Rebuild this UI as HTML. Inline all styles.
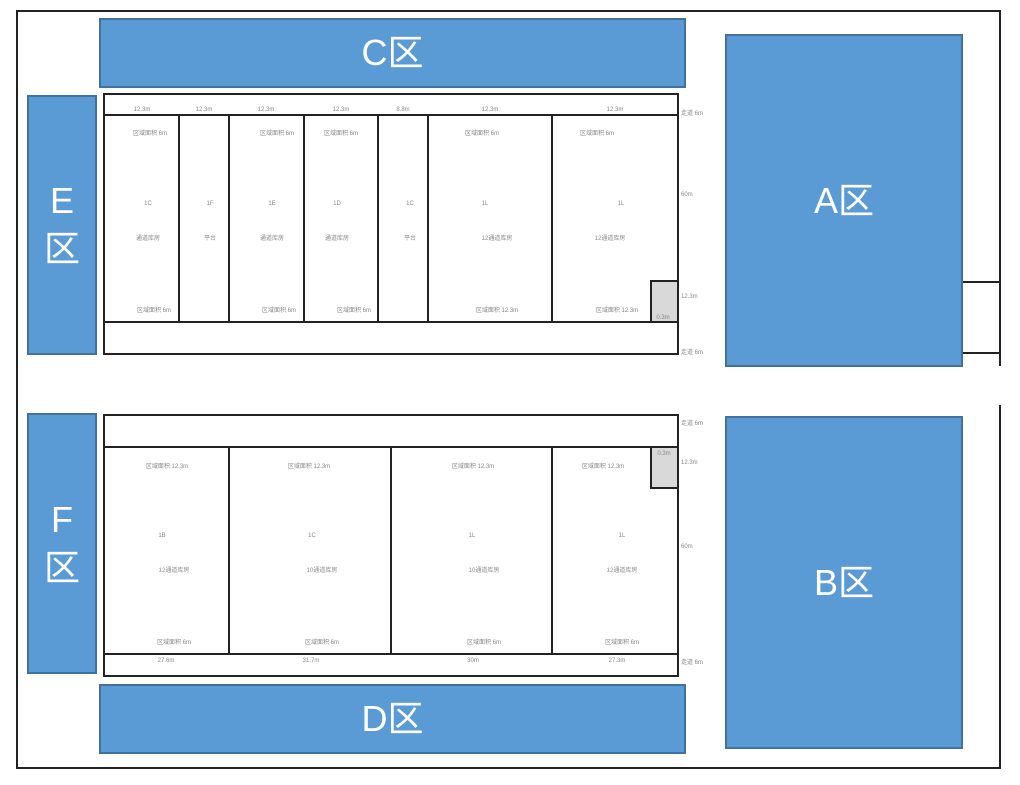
<!DOCTYPE html>
<html><head><meta charset="utf-8"><style>
body{margin:0;width:1020px;height:785px;background:#fff;position:relative;overflow:hidden;font-family:"Liberation Sans","Noto Sans CJK SC",sans-serif}
div{position:absolute;box-sizing:border-box}
.blue{background:#5b9bd5;border:2px solid #41719c;color:#fff;font-size:36px;display:flex;align-items:center;justify-content:center;text-align:center;line-height:48px}
.ln{background:#222}
.bx{border:2px solid #222;background:#fff}
.g{background:#d9d9d9;border:2px solid #222}
.t{font-size:6px;color:#888;white-space:nowrap;transform:translateX(-50%)}
.r{font-size:6px;color:#888;white-space:nowrap}
</style></head><body>
<!-- outer frame -->
<div class="ln" style="left:16px;top:10px;width:985px;height:2px"></div>
<div class="ln" style="left:16px;top:767px;width:985px;height:2px"></div>
<div class="ln" style="left:16px;top:10px;width:2px;height:759px"></div>
<div class="ln" style="left:999px;top:10px;width:2px;height:356px"></div>
<div class="ln" style="left:999px;top:405px;width:2px;height:364px"></div>
<div class="ln" style="left:962px;top:281px;width:38px;height:2px"></div>
<div class="ln" style="left:962px;top:352px;width:38px;height:2px"></div>
<div class="ln" style="left:962px;top:281px;width:1px;height:72px;background:#888"></div>

<div class="blue" style="left:99px;top:18px;width:587px;height:70px">C区</div>
<div class="blue" style="left:725px;top:34px;width:238px;height:333px">A区</div>
<div class="blue" style="left:27px;top:95px;width:70px;height:260px">E<br>区</div>
<div class="blue" style="left:27px;top:413px;width:70px;height:261px">F<br>区</div>
<div class="blue" style="left:725px;top:416px;width:238px;height:333px">B区</div>
<div class="blue" style="left:99px;top:684px;width:587px;height:70px">D区</div>

<!-- upper plan -->
<div class="bx" style="left:103px;top:93px;width:576px;height:262px"></div>
<div class="ln" style="left:103px;top:114px;width:576px;height:2px"></div>
<div class="ln" style="left:103px;top:321px;width:576px;height:2px"></div>
<div class="ln" style="left:178px;top:114px;width:2px;height:209px"></div>
<div class="ln" style="left:228px;top:114px;width:2px;height:209px"></div>
<div class="ln" style="left:303px;top:114px;width:2px;height:209px"></div>
<div class="ln" style="left:377px;top:114px;width:2px;height:209px"></div>
<div class="ln" style="left:427px;top:114px;width:2px;height:209px"></div>
<div class="ln" style="left:551px;top:114px;width:2px;height:209px"></div>
<div class="g" style="left:650px;top:280px;width:29px;height:43px"></div>

<!-- lower plan -->
<div class="bx" style="left:103px;top:414px;width:576px;height:263px"></div>
<div class="ln" style="left:103px;top:446px;width:576px;height:2px"></div>
<div class="ln" style="left:103px;top:653px;width:576px;height:2px"></div>
<div class="ln" style="left:228px;top:446px;width:2px;height:209px"></div>
<div class="ln" style="left:390px;top:446px;width:2px;height:209px"></div>
<div class="ln" style="left:551px;top:446px;width:2px;height:209px"></div>
<div class="g" style="left:650px;top:446px;width:29px;height:43px"></div>

<!-- tiny labels upper -->
<div class="t" style="left:142px;top:107px">12.3m</div>
<div class="t" style="left:204px;top:107px">12.3m</div>
<div class="t" style="left:266px;top:107px">12.3m</div>
<div class="t" style="left:341px;top:107px">12.3m</div>
<div class="t" style="left:403px;top:107px">8.8m</div>
<div class="t" style="left:490px;top:107px">12.3m</div>
<div class="t" style="left:615px;top:107px">12.3m</div>
<div class="t" style="left:150px;top:128px">区域面积 6m</div>
<div class="t" style="left:277px;top:128px">区域面积 6m</div>
<div class="t" style="left:341px;top:128px">区域面积 6m</div>
<div class="t" style="left:482px;top:128px">区域面积 6m</div>
<div class="t" style="left:597px;top:128px">区域面积 6m</div>
<div class="t" style="left:148px;top:201px">1C</div><div class="t" style="left:210px;top:201px">1F</div>
<div class="t" style="left:272px;top:201px">1E</div><div class="t" style="left:337px;top:201px">1D</div>
<div class="t" style="left:410px;top:201px">1C</div><div class="t" style="left:485px;top:201px">1L</div>
<div class="t" style="left:621px;top:201px">1L</div>
<div class="t" style="left:148px;top:233px">通道库房</div><div class="t" style="left:210px;top:233px">平台</div>
<div class="t" style="left:272px;top:233px">通道库房</div><div class="t" style="left:337px;top:233px">通道库房</div>
<div class="t" style="left:410px;top:233px">平台</div><div class="t" style="left:497px;top:233px">12通道库房</div>
<div class="t" style="left:610px;top:233px">12通道库房</div>
<div class="t" style="left:154px;top:305px">区域面积 6m</div>
<div class="t" style="left:279px;top:305px">区域面积 6m</div>
<div class="t" style="left:354px;top:305px">区域面积 6m</div>
<div class="t" style="left:497px;top:305px">区域面积 12.3m</div>
<div class="t" style="left:617px;top:305px">区域面积 12.3m</div>
<div class="t" style="left:663px;top:315px">0.3m</div>
<div class="r" style="left:681px;top:108px">走道 6m</div>
<div class="r" style="left:681px;top:192px">60m</div>
<div class="r" style="left:681px;top:294px">12.3m</div>
<div class="r" style="left:681px;top:347px">走道 6m</div>

<!-- tiny labels lower -->
<div class="r" style="left:681px;top:418px">走道 6m</div>
<div class="r" style="left:681px;top:460px">12.3m</div>
<div class="r" style="left:681px;top:544px">60m</div>
<div class="r" style="left:681px;top:657px">走道 6m</div>
<div class="t" style="left:167px;top:461px">区域面积 12.3m</div>
<div class="t" style="left:309px;top:461px">区域面积 12.3m</div>
<div class="t" style="left:473px;top:461px">区域面积 12.3m</div>
<div class="t" style="left:603px;top:461px">区域面积 12.3m</div>
<div class="t" style="left:664px;top:451px">0.3m</div>
<div class="t" style="left:162px;top:533px">1B</div><div class="t" style="left:312px;top:533px">1C</div>
<div class="t" style="left:472px;top:533px">1L</div><div class="t" style="left:622px;top:533px">1L</div>
<div class="t" style="left:174px;top:565px">12通道库房</div><div class="t" style="left:322px;top:565px">10通道库房</div>
<div class="t" style="left:484px;top:565px">10通道库房</div><div class="t" style="left:622px;top:565px">12通道库房</div>
<div class="t" style="left:174px;top:637px">区域面积 6m</div><div class="t" style="left:322px;top:637px">区域面积 6m</div>
<div class="t" style="left:484px;top:637px">区域面积 6m</div><div class="t" style="left:622px;top:637px">区域面积 6m</div>
<div class="t" style="left:166px;top:658px">27.6m</div><div class="t" style="left:311px;top:658px">31.7m</div>
<div class="t" style="left:473px;top:658px">30m</div><div class="t" style="left:617px;top:658px">27.3m</div>
</body></html>
